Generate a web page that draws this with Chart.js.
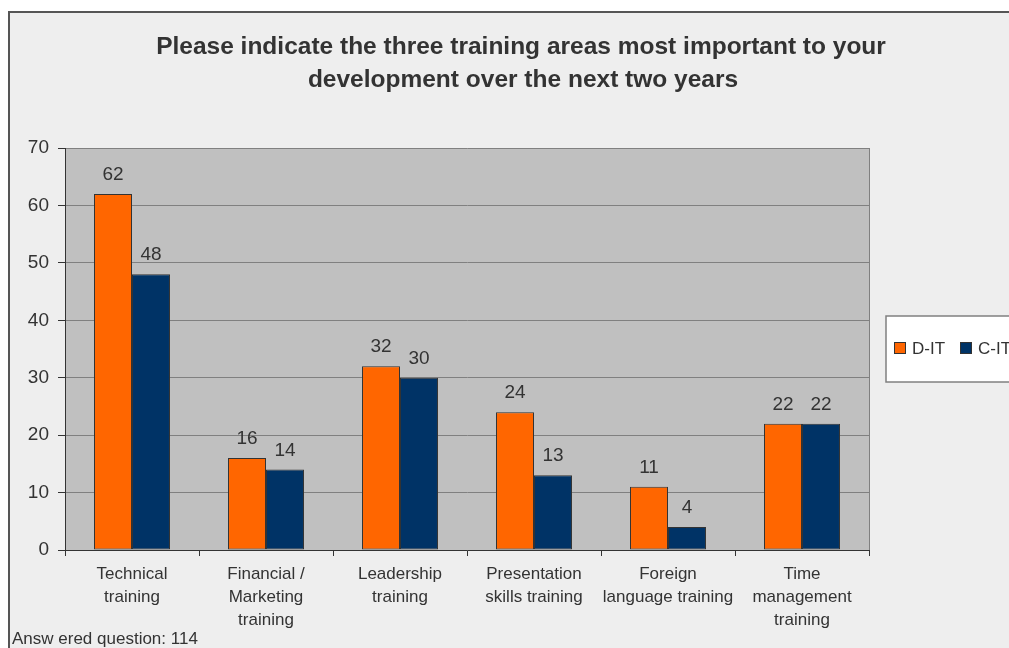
<!DOCTYPE html>
<html>
<head>
<meta charset="utf-8">
<title>Training areas</title>
<script src="https://cdn.jsdelivr.net/npm/chart.js@4/dist/chart.umd.min.js"></script>
<style>
  html, body { margin: 0; padding: 0; background: #fff; }
  canvas { display: block; }
</style>
</head>
<body>
<canvas id="training" width="1009" height="648"></canvas>
<script>
const categories = [
  ['Technical', 'training'],
  ['Financial /', 'Marketing', 'training'],
  ['Leadership', 'training'],
  ['Presentation', 'skills training'],
  ['Foreign', 'language training'],
  ['Time', 'management', 'training']
];
const dItValues = [62, 16, 32, 24, 11, 22];
const cItValues = [48, 14, 30, 13, 4, 22];
const seriesNames = ['D-IT', 'C-IT'];
const yTicks = [0, 10, 20, 30, 40, 50, 60, 70];

const titleLines = [
  'Please indicate the three training areas most important to your',
  'development over the next two years'
];
const footNote = 'Answ ered question: 114';

const FONT = '"Liberation Sans", Arial, Helvetica, sans-serif';
const TEXT = '#333333';

// frame, grey plot area, title, legend box, value labels and footnote
const decorations = {
  id: 'decorations',
  beforeDraw(chart) {
    const ctx = chart.ctx;
    const a = chart.chartArea;
    ctx.save();
    ctx.fillStyle = '#eeeeee';
    ctx.fillRect(9, 12, chart.width, chart.height);
    ctx.strokeStyle = '#555555';
    ctx.lineWidth = 2;
    ctx.strokeRect(9, 12, chart.width + 20, chart.height + 20);

    ctx.fillStyle = '#c0c0c0';
    ctx.fillRect(a.left, a.top, a.right - a.left, a.bottom - a.top);

    ctx.fillStyle = TEXT;
    ctx.font = 'bold 24.5px ' + FONT;
    ctx.textAlign = 'center';
    ctx.textBaseline = 'middle';
    ctx.fillText(titleLines[0], 521, 47);
    ctx.fillText(titleLines[1], 523, 80);

    ctx.font = '17px ' + FONT;
    ctx.textAlign = 'left';
    ctx.textBaseline = 'alphabetic';
    ctx.fillText(footNote, 12, 644);
    ctx.restore();
  },
  afterDraw(chart) {
    const ctx = chart.ctx;
    const a = chart.chartArea;
    ctx.save();
    // right edge of the plot area
    ctx.strokeStyle = '#808080';
    ctx.lineWidth = 1;
    ctx.beginPath();
    ctx.moveTo(a.right + 0.5, a.top);
    ctx.lineTo(a.right + 0.5, a.bottom);
    ctx.stroke();

    // value labels above each bar
    ctx.fillStyle = TEXT;
    ctx.font = '19px ' + FONT;
    ctx.textAlign = 'center';
    ctx.textBaseline = 'alphabetic';
    chart.data.datasets.forEach((ds, i) => {
      chart.getDatasetMeta(i).data.forEach((bar, j) => {
        ctx.fillText(String(ds.data[j]), bar.x, bar.y - 14);
      });
    });

    // legend box
    ctx.fillStyle = '#ffffff';
    ctx.fillRect(886, 316, 140, 66);
    ctx.strokeStyle = '#808080';
    ctx.lineWidth = 1.5;
    ctx.strokeRect(886, 316, 140, 66);
    ctx.font = '17px ' + FONT;
    ctx.textAlign = 'left';
    ctx.textBaseline = 'alphabetic';
    const itemX = [894, 960];
    chart.data.datasets.forEach((ds, i) => {
      const x = itemX[i];
      ctx.fillStyle = ds.backgroundColor;
      ctx.fillRect(x, 342, 12, 12);
      ctx.strokeStyle = '#333333';
      ctx.lineWidth = 1;
      ctx.strokeRect(x + 0.5, 342.5, 11, 11);
      ctx.fillStyle = TEXT;
      ctx.fillText(ds.label, x + 18, 354);
    });
    ctx.restore();
  }
};

const trainingData = {
  labels: categories,
  datasets: [
    {
      label: seriesNames[0],
      data: dItValues,
      backgroundColor: '#ff6600',
      borderColor: '#333333',
      borderWidth: 1,
      borderSkipped: false
    },
    {
      label: seriesNames[1],
      data: cItValues,
      backgroundColor: '#003366',
      borderColor: '#333333',
      borderWidth: 1,
      borderSkipped: false
    }
  ]
};

const trainingConfig = {
  type: 'bar',
  data: trainingData,
  plugins: [decorations],
  options: {
    responsive: false,
    animation: false,
    devicePixelRatio: 1,
    categoryPercentage: 0.567,
    barPercentage: 1.0,
    layout: {
      padding: { left: 0, top: 148, right: 140, bottom: 0 }
    },
    scales: {
      x: {
        afterFit(scale) { scale.height = 98; },
        grid: {
          drawOnChartArea: false,
          drawTicks: true,
          tickLength: 6,
          color: '#333333'
        },
        border: { color: '#333333', width: 1 },
        ticks: {
          color: TEXT,
          padding: 7,
          maxRotation: 0,
          autoSkip: false,
          font: { family: FONT, size: 17, lineHeight: 1.36 }
        }
      },
      y: {
        min: 0,
        max: 70,
        afterFit(scale) { scale.width = 65; },
        afterBuildTicks(scale) {
          scale.ticks = yTicks.map(v => ({ value: v }));
        },
        grid: {
          color: '#808080',
          tickColor: '#333333',
          tickLength: 7
        },
        border: { color: '#333333', width: 1 },
        ticks: {
          color: TEXT,
          padding: 9,
          font: { family: FONT, size: 19 }
        }
      }
    },
    plugins: {
      legend: { display: false },
      title: { display: false },
      tooltip: { enabled: false }
    }
  }
};

new Chart(
  document.getElementById('training'),
  trainingConfig
);
</script>
</body>
</html>
